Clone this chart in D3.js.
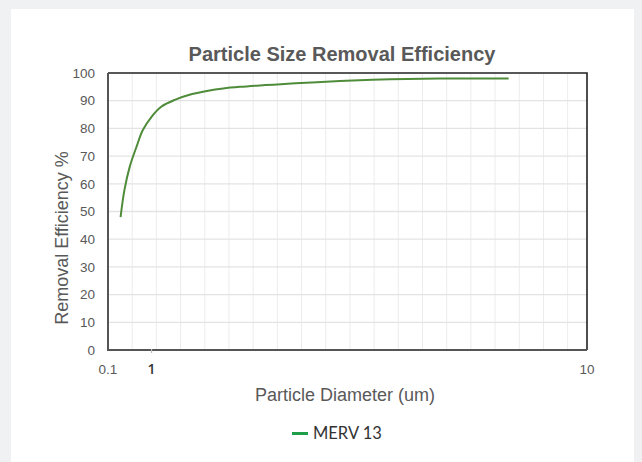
<!DOCTYPE html>
<html>
<head>
<meta charset="utf-8">
<script src="https://cdn.jsdelivr.net/npm/d3@7"></script>
<style>
  body { margin: 0; background: #f0f1f3; }
  svg { display: block; }
</style>
</head>
<body>
<svg id="chart" width="642" height="462"></svg>
<script>
// Data
const diameters = [0.36, 0.44, 0.55, 0.69, 0.82, 1.0, 1.2, 1.48, 1.82, 2.17, 2.48, 2.83, 3.24, 3.52, 4.2, 4.89, 5.93, 6.96, 8.38];
const efficiency = [48, 57.8, 66.2, 73.4, 79.4, 84.2, 87.8, 90.3, 92.3, 93.6, 94.4, 95.0, 95.5, 95.8, 96.5, 97.1, 97.7, 98.0, 98.0];
const yTicks = [0, 10, 20, 30, 40, 50, 60, 70, 80, 90, 100];
const xTickLabels = ["0.1", "1", "10"];
const seriesName = "MERV 13";

const svg = d3.select("#chart");

// white card
svg.append("rect")
  .attr("x", 11).attr("y", 9)
  .attr("width", 623).attr("height", 460)
  .attr("fill", "#fff");

const plotLeft = 108, plotRight = 587, plotTop = 73, plotBottom = 350;

const x = d3.scaleLinear().domain([0.1, 10]).range([plotLeft, plotRight]);
const y = d3.scaleLinear().domain([0, 100]).range([plotBottom, plotTop]);

// Grid
const grid = svg.append("g");
grid.selectAll("line.v")
  .data(d3.range(0.6, 10, 0.5))
  .enter()
  .append("line")
  .attr("x1", (d) => x(d)).attr("x2", (d) => x(d))
  .attr("y1", plotTop).attr("y2", plotBottom)
  .attr("stroke", "#ececec")
  .attr("stroke-width", 1);

grid.selectAll("line.h")
  .data(yTicks.slice(1, -1))
  .enter()
  .append("line")
  .attr("x1", plotLeft).attr("x2", plotRight)
  .attr("y1", (d) => y(d)).attr("y2", (d) => y(d))
  .attr("stroke", "#e3e3e3")
  .attr("stroke-width", 1.3);

// Plot border
svg.append("path")
  .attr("d", `M${plotLeft},${plotTop}H${plotRight}V${plotBottom}`)
  .attr("fill", "none")
  .attr("stroke", "#222")
  .attr("stroke-width", 1.6);
svg.append("path")
  .attr("d", `M${plotLeft},${plotTop}V${plotBottom}H${plotRight}`)
  .attr("fill", "none")
  .attr("stroke", "#555")
  .attr("stroke-width", 2);

// small tick at 1
svg.append("line")
  .attr("x1", x(1)).attr("x2", x(1))
  .attr("y1", plotBottom - 1).attr("y2", plotBottom + 3)
  .attr("stroke", "#bbb")
  .attr("stroke-width", 1.2);

// Y tick labels
svg.append("g")
  .selectAll("text")
  .data(yTicks)
  .enter()
  .append("text")
  .attr("x", 95)
  .attr("y", (d) => y(d))
  .attr("dy", "0.35em")
  .attr("text-anchor", "end")
  .attr("font-family", "Liberation Sans, Arial, sans-serif")
  .attr("font-size", 13.5)
  .attr("fill", "#595959")
  .text((d) => d);

// X tick labels
svg.append("g")
  .selectAll("text")
  .data(xTickLabels)
  .enter()
  .append("text")
  .attr("x", (d) => x(+d))
  .attr("y", 374)
  .attr("text-anchor", "middle")
  .attr("font-family", (d) => (d === "1" ? "Open Sans, sans-serif" : "Liberation Sans, Arial, sans-serif"))
  .attr("font-size", (d) => (d === "1" ? 14 : 13.5))
  .attr("font-weight", (d) => (d === "1" ? 600 : 400))
  .attr("fill", (d) => (d === "1" ? "#333" : "#595959"))
  .text((d) => d);

// Line
const points = diameters.map((d, i) => [d, efficiency[i]]);
svg.append("path")
  .datum(points)
  .attr("fill", "none")
  .attr("stroke", "#4f8c3a")
  .attr("stroke-width", 2)
  .attr("d", d3.line()
    .x((d) => x(d[0]))
    .y((d) => y(d[1]))
    .curve(d3.curveCatmullRom.alpha(0.5)));

// Title
svg.append("text")
  .attr("x", 342).attr("y", 61)
  .attr("text-anchor", "middle")
  .attr("font-family", "Liberation Sans, Arial, sans-serif")
  .attr("font-size", 20)
  .attr("font-weight", "bold")
  .attr("fill", "#595959")
  .text("Particle Size Removal Efficiency");

// Axis titles
svg.append("text")
  .attr("transform", "translate(68, 238) rotate(-90)")
  .attr("text-anchor", "middle")
  .attr("font-family", "Liberation Sans, Arial, sans-serif")
  .attr("font-size", 18)
  .attr("fill", "#595959")
  .text("Removal Efficiency %");

svg.append("text")
  .attr("x", 345).attr("y", 401)
  .attr("text-anchor", "middle")
  .attr("font-family", "Liberation Sans, Arial, sans-serif")
  .attr("font-size", 18)
  .attr("fill", "#595959")
  .text("Particle Diameter (um)");

// Legend
svg.append("line")
  .attr("x1", 292).attr("x2", 308)
  .attr("y1", 433.5).attr("y2", 433.5)
  .attr("stroke", "#1f9e4a")
  .attr("stroke-width", 3);
svg.append("text")
  .attr("x", 313).attr("y", 439)
  .attr("font-family", "Lato, sans-serif")
  .attr("font-size", 16.5)
  .attr("fill", "#333")
  .text(seriesName);
</script>
</body>
</html>
